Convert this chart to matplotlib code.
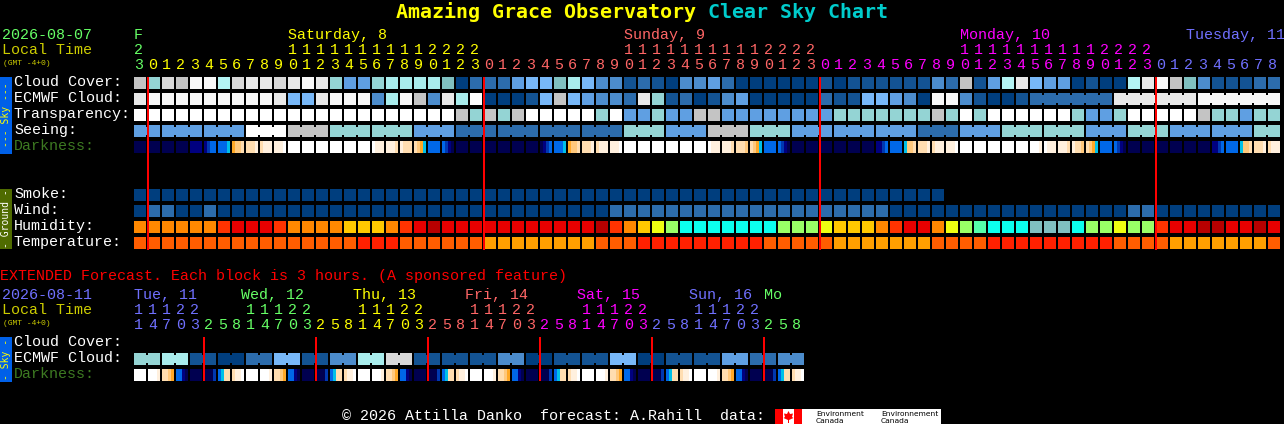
#%%
import matplotlib
matplotlib.use('Agg')
import matplotlib.pyplot as plt
from matplotlib.patches import Rectangle, Polygon

#Colours, index = forecast class
sky_colors = ['#003E7E', '#135393', '#2C6CAC', '#4C8CCC', '#5F9FE2', '#78B8F8', '#80C0C0',
              '#94D4D4', '#A8ECEC', '#B4F4F4', '#C4C4C4', '#D8D8D8', '#E8E8E8', '#F8F8F8', '#FFFFFF']
humidity_colors = ['#FF8800', '#FF3300', '#E80000', '#B80000', '#FFC800', '#EEFF11', '#99FF66',
                   '#0CFFEE', '#55FFAA', '#80C0C0']
temperature_colors = ['#FF5D00', '#FF2000', '#FF9F00']
dark_colors = ['#000050', '#000080', '#0038B0', '#0068E8', '#00C0E8', '#FFA826', '#FFC87C',
               '#FFDDB0', '#FFF0DE', '#FFFFFF']

#Main chart, one value per hour
cloud_cover = [10, 7, 11, 10, 13, 13, 9, 11, 12, 12, 11, 12, 13, 12, 7, 4, 4, 7, 8, 8, 8,
               8, 6, 0, 2, 2, 2, 4, 5, 5, 6, 8, 5, 3, 3, 1, 2, 1, 0, 3, 3, 4, 2, 0, 0,
               0, 0, 0, 0, 1, 0, 1, 1, 1, 1, 1, 1, 3, 2, 10, 1, 4, 9, 12, 5, 4, 4, 0, 1,
               0, 0, 9, 12, 13, 10, 6, 3, 1, 1, 1, 2, 2]
ecmwf_cloud = [12, 13, 13, 13, 13, 13, 13, 13, 13, 13, 12, 5, 5, 12, 13, 13, 13, 3, 8, 13, 10,
               3, 12, 8, 14, 0, 0, 0, 1, 5, 10, 5, 4, 3, 3, 2, 12, 7, 1, 2, 0, 1, 3, 4, 0,
               0, 0, 0, 0, 2, 1, 1, 5, 5, 4, 3, 0, 13, 13, 3, 1, 0, 0, 1, 2, 2, 2, 2, 2,
               2, 12, 12, 12, 12, 12, 12, 13, 13, 13, 13, 13, 13]
transparency = [14, 14, 14, 14, 14, 14, 14, 14, 14, 14, 14, 14, 14, 14, 14, 14, 14, 14, 14, 14, 14,
                14, 14, 10, 7, 10, 7, 10, 14, 14, 14, 14, 14, 7, 14, 4, 4, 7, 4, 4, 10, 10, 4, 4, 4,
                4, 4, 4, 4, 4, 7, 7, 7, 7, 7, 7, 7, 10, 7, 14, 7, 14, 14, 14, 14, 14, 14, 7, 4,
                4, 7, 14, 14, 14, 14, 14, 10, 7, 7, 4, 7, 7]
seeing = [4, 4, 4, 4, 4, 4, 4, 4, 14, 14, 14, 10, 10, 10, 7, 7, 7, 7, 7, 7, 4,
          4, 4, 2, 2, 2, 2, 2, 2, 2, 2, 2, 2, 2, 2, 7, 7, 7, 4, 4, 4, 10, 10, 10, 7,
          7, 7, 4, 4, 4, 4, 4, 4, 4, 4, 4, 2, 2, 2, 4, 4, 4, 7, 7, 7, 7, 7, 7, 4,
          4, 4, 7, 7, 7, 4, 4, 4, 4, 4, 4, 7, 7]
darkness = ['0000', '0000', '0000', '0000', '1111', '1233', '3334', '5667', '7778', '7888', '8889',
            '9999', '9999', '9999', '9999', '9999', '9999', '9888', '8887', '8777', '7654',
            '3333', '3210', '0000', '0000', '0000', '0000', '0000', '0000', '0123', '3334', '5667',
            '7778', '7888', '8889', '9999', '9999', '9999', '9999', '9999', '9999', '9888', '8887',
            '7776', '7654', '3333', '3210', '0000', '0000', '0000', '0000', '0000', '0000', '1123',
            '3333', '4667', '7778', '7888', '8889', '9999', '9999', '9999', '9999', '9999', '9998',
            '9888', '8887', '8776', '7654', '3333', '3210', '0000', '0000', '0000', '0000', '0000',
            '0000', '1123', '3333', '4667', '7778', '7888']
smoke = [0] * 58
wind = [0, 2, 2, 0, 0, 2, 0, 0, 0, 0, 0, 0, 0, 0, 0, 0, 0, 0, 0, 0, 0,
        0, 0, 0, 0, 0, 0, 0, 0, 0, 0, 0, 0, 0, 2, 2, 2, 2, 2, 2, 2, 2, 2, 2, 2,
        2, 2, 2, 2, 2, 2, 2, 2, 2, 0, 0, 0, 0, 0, 0, 0, 0, 0, 0, 0, 0, 0, 0, 0,
        0, 0, 2, 2, 0, 0, 0, 0, 0, 0, 0, 0, 0]
humidity = [0, 0, 0, 0, 0, 0, 1, 2, 2, 2, 1, 0, 0, 0, 0, 4, 4, 4, 0, 1, 2,
            3, 2, 2, 2, 2, 2, 2, 2, 2, 2, 2, 2, 3, 1, 0, 4, 5, 6, 7, 7, 7, 7, 7, 7,
            7, 6, 6, 6, 5, 4, 4, 4, 0, 1, 2, 2, 0, 5, 6, 8, 7, 7, 7, 9, 9, 9, 7, 6,
            6, 5, 6, 6, 1, 2, 2, 3, 3, 2, 2, 3, 2]
temperature = [0, 0, 0, 0, 0, 0, 0, 0, 0, 0, 0, 0, 0, 0, 0, 0, 1, 1, 1, 0, 0,
               0, 0, 0, 0, 2, 2, 2, 2, 2, 2, 2, 2, 0, 0, 0, 1, 1, 1, 1, 1, 1, 1, 1, 1,
               0, 0, 0, 0, 0, 2, 2, 2, 2, 2, 2, 2, 0, 0, 0, 0, 1, 1, 1, 1, 1, 1, 1, 1,
               1, 0, 0, 0, 0, 2, 2, 2, 2, 2, 2, 2, 0]
hours = [23] + list(range(24)) * 3 + list(range(9))
hour_days = [0] + [1] * 24 + [2] * 24 + [3] * 24 + [4] * 9

#Extended chart, one value per 3 hours
ext_ecmwf = [7, 7, 8, 8, 1, 1, 0, 0, 2, 2, 5, 5, 1, 1, 3, 3, 8, 8, 11, 11, 1, 1, 1, 1,
             1, 1, 3, 3, 0, 0, 1, 1, 1, 1, 5, 5, 0, 0, 1, 1, 1, 1, 4, 4, 2, 2, 3, 3]
ext_darkness = ['9999', '9998', '7765', '3310', '0000', '0002', '3477', '7889',
                '9999', '9998', '7765', '3310', '0000', '0002', '3477', '7889',
                '9999', '9998', '7765', '3310', '0000', '0002', '3477', '7889',
                '9999', '9998', '7765', '3310', '0000', '0002', '3477', '7889',
                '9999', '9998', '7765', '3310', '0000', '0002', '3477', '7889',
                '9999', '9998', '7765', '3310', '0000', '0002', '3477', '7889']
ext_hours = [11, 14, 17, 20, 23] + [2, 5, 8, 11, 14, 17, 20, 23] * 5 + [2, 5, 8]
ext_hour_days = [4] * 5 + [5] * 8 + [1] * 8 + [2] * 8 + [3] * 8 + [4] * 8 + [5] * 3

#Day labels
day_colors = ['#66FF66', '#FFFF00', '#FF6666', '#FF00FF', '#7070FF', '#66FF66']
main_days = ['F', 'Saturday, 8', 'Sunday, 9', 'Monday, 10', 'Tuesday, 11']
main_day_x = [134, 288, 624, 960, 1186]
main_day_colors = [0, 1, 2, 3, 4]
ext_days = ['Tue, 11', 'Wed, 12', 'Thu, 13', 'Fri, 14', 'Sat, 15', 'Sun, 16', 'Mo']
ext_day_x = [134, 241, 353, 465, 577, 689, 764]
ext_day_colors = [4, 5, 1, 2, 3, 4, 5]

#Row names
sky_rows = ['Cloud Cover:', 'ECMWF Cloud:', 'Transparency:', 'Seeing:', 'Darkness:']
ground_rows = ['Smoke:', 'Wind:', 'Humidity:', 'Temperature:']
ext_rows = ['Cloud Cover:', 'ECMWF Cloud:', 'Darkness:']

#%%
MONO = 'Liberation Mono'
SIDE = 'DejaVu Sans Mono'
FS = 10.8 #9 px per character at dpi 100
X0 = 134 #left edge of first block
STEP = 14
W = 12 #block size
DARK_GREEN = '#3D7A22'

fig = plt.figure(figsize=(12.84, 4.24), dpi=100, facecolor='black')
ax = fig.add_axes([0, 0, 1, 1])
ax.set_xlim(0, 1284)
ax.set_ylim(424, 0)
ax.axis('off')


def block(x, y, w, h, color):
    #no snapping, whole pixel coordinates stay sharp
    ax.add_patch(Rectangle((x, y), w, h, facecolor=color, edgecolor='none', linewidth=0, snap=False))


def label(x, y, s, color='white', size=FS, **kw):
    ax.text(x, y, s, color=color, fontsize=size, family=MONO, va='baseline', ha='left', **kw)


def draw_row(values, y, colors, join=None):
    #join(i) says if block i may link to block i+1 when they are equal
    for i, v in enumerate(values):
        x = X0 + STEP * i
        block(x, y, W, W, colors[v])
        if join is not None and i + 1 < len(values) and values[i + 1] == v and join(i):
            block(x + W, y + 2, STEP - W, W - 4, colors[v])


def draw_dark(values, y):
    for i, cell in enumerate(values):
        x = X0 + STEP * i
        for k, c in enumerate(cell):
            block(x + k * W / len(cell), y, W / len(cell), W, dark_colors[int(c)])


def draw_hours(hrs, days, y_tens, y_ones):
    for i, (h, d) in enumerate(zip(hrs, days)):
        x = X0 + STEP * i
        label(x, y_ones, str(h % 10), day_colors[d])
        if h >= 10:
            label(x, y_tens, str(h // 10), day_colors[d])


#Title
ax.text(396, 18, 'Amazing Grace Observatory', color='#FFFF00', fontsize=14.4, family='DejaVu Sans Mono',
        weight='bold', va='baseline', ha='left')
ax.text(708, 18, 'Clear Sky Chart', color='#00CCCC', fontsize=14.4, family='DejaVu Sans Mono',
        weight='bold', va='baseline', ha='left')

#Main header
label(2, 39, '2026-08-07', day_colors[0])
label(2, 54, 'Local Time', '#CCCC00')
label(3, 65, '(GMT -4+0)', '#CCCC00', size=5.8)
for s, x, c in zip(main_days, main_day_x, main_day_colors):
    label(x, 39, s, day_colors[c])
draw_hours(hours, hour_days, 54, 69)

#Sky panel
block(0, 77, 12, 77, '#0060E8')
ax.text(6, 115, '--- Sky ---', color='#FFFF00', fontsize=7, family=SIDE, rotation=90, ha='center', va='center')
for i, s in enumerate(sky_rows):
    label(14, 86 + 16 * i, s, DARK_GREEN if s == 'Darkness:' else 'white')
draw_row(cloud_cover, 77, sky_colors)
draw_row(ecmwf_cloud, 93, sky_colors, join=lambda i: i >= 64)
draw_row(transparency, 109, sky_colors)
draw_row(seeing, 125, sky_colors, join=lambda i: (i + 1) % 3 != 2)
draw_dark(darkness, 141)

#Ground panel
block(0, 189, 12, 60, '#4F6B00')
ax.text(6, 219, '- Ground -', color='white', fontsize=7, family=SIDE, rotation=90, ha='center', va='center')
for i, s in enumerate(ground_rows):
    label(14, 198 + 16 * i, s)
draw_row(smoke, 189, sky_colors)
draw_row(wind, 205, sky_colors)
draw_row(humidity, 221, humidity_colors)
draw_row(temperature, 237, temperature_colors)

#Midnight lines
for i in range(4):
    ax.plot([X0 + STEP + 336 * i] * 2, [77, 250], color='#FF0000', lw=1.44, solid_capstyle='butt', zorder=5, snap=False)

#Extended forecast
label(0, 280, 'EXTENDED Forecast. Each block is 3 hours. (A sponsored feature)', '#FF0000')
label(2, 299, '2026-08-11', day_colors[4])
label(2, 314, 'Local Time', '#CCCC00')
label(3, 325, '(GMT -4+0)', '#CCCC00', size=5.8)
for s, x, c in zip(ext_days, ext_day_x, ext_day_colors):
    label(x, 299, s, day_colors[c])
draw_hours(ext_hours, ext_hour_days, 314, 329)

block(0, 337, 12, 45, '#0060E8')
ax.text(6, 359, '- Sky -', color='#FFFF00', fontsize=7, family=SIDE, rotation=90, ha='center', va='center')
for i, s in enumerate(ext_rows):
    label(14, 346 + 16 * i, s, DARK_GREEN if s == 'Darkness:' else 'white')
draw_row(ext_ecmwf, 353, sky_colors, join=lambda i: i % 2 == 0)
draw_dark(ext_darkness, 369)
for i in range(6):
    ax.plot([X0 + 5 * STEP + 112 * i] * 2, [337, 381], color='#FF0000', lw=1.44, solid_capstyle='butt', zorder=5, snap=False)

#Footer and Environment Canada logo
label(342, 420, '\u00a9 2026 Attilla Danko  forecast: A.Rahill  data: ')
block(775, 409, 166, 15, 'white')
block(775, 409, 8, 15, '#FF0000')
block(794, 409, 8, 15, '#FF0000')
ax.add_patch(Polygon([(788.5, 411), (790, 414), (793, 413.5), (792, 417), (793.5, 418), (789, 420),
                      (789, 423), (788, 423), (788, 420), (783.5, 418), (785, 417), (784, 413.5),
                      (787, 414)], facecolor='#FF0000', edgecolor='none'))
for x, s in zip([816, 881], ['Environment', 'Environnement']):
    ax.text(x, 415.5, s, color='black', fontsize=5.4, family='DejaVu Sans', va='baseline', ha='left')
    ax.text(x, 423, 'Canada', color='black', fontsize=5.4, family='DejaVu Sans', va='baseline', ha='left')

fig.savefig('out.png', dpi=100, facecolor='black')
